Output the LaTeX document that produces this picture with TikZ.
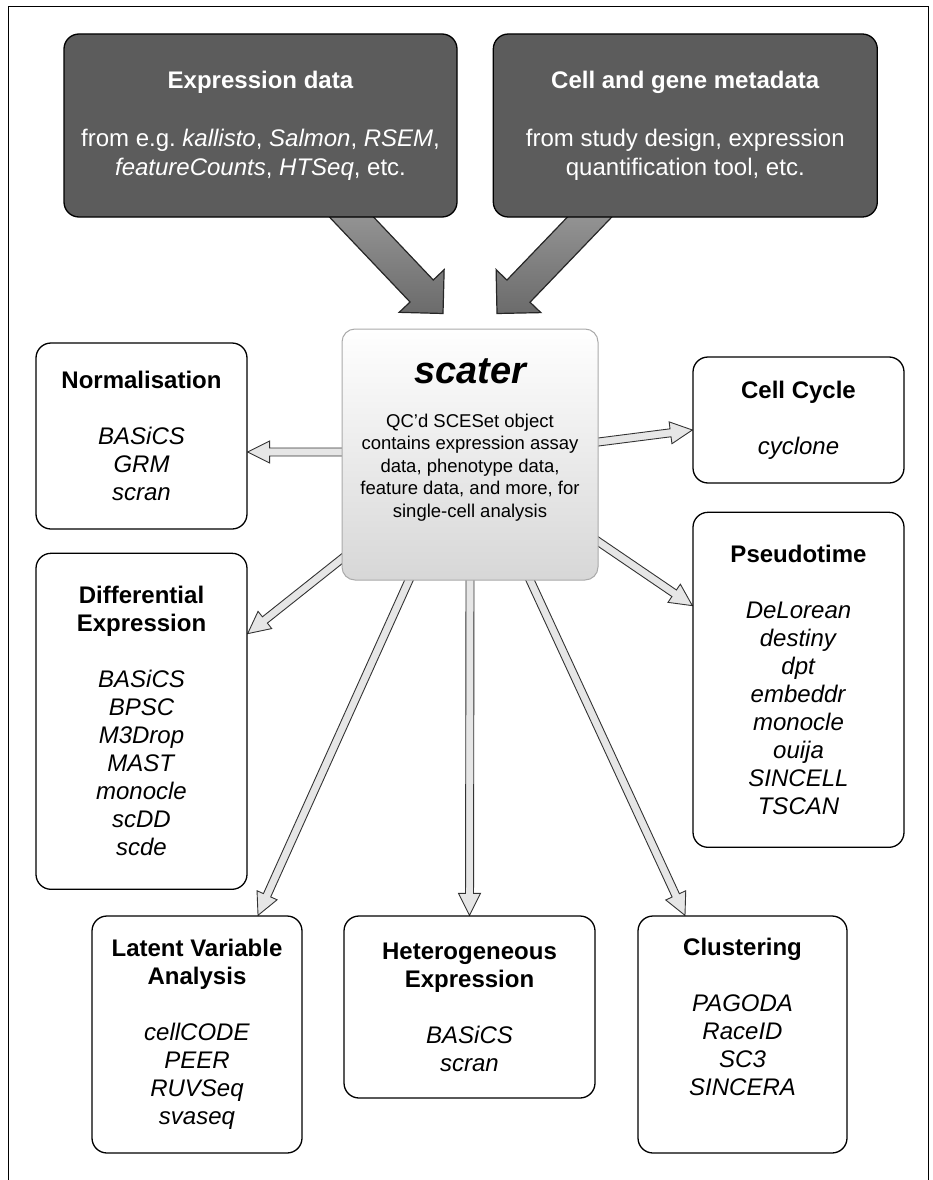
\documentclass[tikz,border=0pt]{standalone}
\usepackage{fontspec}
\setmainfont{Liberation Sans}
\usetikzlibrary{calc,positioning,backgrounds}
\definecolor{inbox}{RGB}{92,92,92}
\definecolor{arrowfill}{RGB}{230,230,230}
\definecolor{scaterline}{RGB}{170,170,170}
\definecolor{scaterlow}{RGB}{215,215,215}

% block arrow from #2 to #3: shaft half width #4, head half width #5, head length #6
\newcommand{\fatarrow}[6][]{%
  \draw[#1] let \p1=($(#3)-(#2)$) in
    {[shift={(#2)}, rotate={atan2(\y1,\x1)}]
      (0pt,-#4) -- ({veclen(\x1,\y1)-#6},-#4) -- ({veclen(\x1,\y1)-#6},-#5)
      -- ({veclen(\x1,\y1)},0pt) -- ({veclen(\x1,\y1)-#6},#5)
      -- ({veclen(\x1,\y1)-#6},#4) -- (0pt,#4) -- cycle};%
}

\begin{document}
\begin{tikzpicture}[x=1pt, y=-1pt,
  inputbox/.style={draw, line width=1.3pt, rounded corners=15pt, fill=inbox, text=white, align=center, inner sep=0pt, font=\fontsize{24}{29}\selectfont},
  toolbox/.style={draw, line width=1.3pt, rounded corners=15pt, fill=white, align=center, inner sep=0pt, font=\fontsize{24}{28}\selectfont},
  scaterbox/.style={draw=scaterline, line width=1pt, rounded corners=13pt, top color=white, bottom color=scaterlow},
  bigarr/.style={draw=black!85, line width=1.2pt, top color=black!38, bottom color=black!58},
  smallarr/.style={draw=black!80, line width=0.9pt, fill=arrowfill}]
  \useasboundingbox (0,0) rectangle (933,1180);
  \draw[line width=1pt] (8,1180) -- (8,7) -- (928,7) -- (928,1180);

  % inputs
  \node[inputbox, minimum width=393pt, minimum height=183pt] (exprdata) at (260.5,125.5) {\textbf{Expression data}\\[29pt]from e.g.\ \textit{kallisto}, \textit{Salmon}, \textit{RSEM},\\\textit{featureCounts}, \textit{HTSeq}, etc.};
  \node[inputbox, minimum width=384pt, minimum height=183pt, right=35pt of exprdata] (metadata) {\textbf{Cell and gene metadata}\\[29pt]from study design, expression\\quantification tool, etc.};

  % scater
  \node[scaterbox, minimum width=256pt, minimum height=251pt] (scater) at (470,454.5) {};
  \node[font=\fontsize{38}{44}\selectfont\bfseries\itshape] (scatername) at ($(scater.north)+(0,43)$) {scater};
  \node[font=\fontsize{18.5}{22.5}\selectfont, align=center] (scaterdesc) at ($(scater.north)+(0,139)$) {QC'd SCESet object\\contains expression assay\\data, phenotype data,\\feature data, and more, for\\single-cell analysis};

  % tools
  \node[toolbox, minimum width=211pt, minimum height=186pt] (norm) at (141.5,436) {\textbf{Normalisation}\\[28pt]\textit{BASiCS}\\\textit{GRM}\\\textit{scran}};
  \node[toolbox, minimum width=211pt, minimum height=336pt, below=23pt of norm] (diffexpr) {\textbf{Differential}\\\textbf{Expression}\\[28pt]\textit{BASiCS}\\\textit{BPSC}\\\textit{M3Drop}\\\textit{MAST}\\\textit{monocle}\\\textit{scDD}\\\textit{scde}};
  \node[toolbox, minimum width=211pt, minimum height=126pt] (cellcycle) at (798.5,420) {\textbf{Cell Cycle}\\[28pt]\textit{cyclone}};
  \node[toolbox, minimum width=211pt, minimum height=335pt, below=28pt of cellcycle] (pseudo) {\textbf{Pseudotime}\\[28pt]\textit{DeLorean}\\\textit{destiny}\\\textit{dpt}\\\textit{embeddr}\\\textit{monocle}\\\textit{ouija}\\\textit{SINCELL}\\\textit{TSCAN}};
  \node[toolbox, minimum width=210pt, minimum height=237pt] (latent) at (197,1034.5) {\textbf{Latent Variable}\\\textbf{Analysis}\\[28pt]\textit{cellCODE}\\\textit{PEER}\\\textit{RUVSeq}\\\textit{svaseq}};
  \node[toolbox, minimum width=251pt, minimum height=182pt] (hetero) at (469.5,1007) {\textbf{Heterogeneous}\\\textbf{Expression}\\[28pt]\textit{BASiCS}\\\textit{scran}};
  \node[toolbox, minimum width=209pt, minimum height=237pt] (cluster) at (742.5,1034.5) {\textbf{Clustering}\\[28pt]\textit{PAGODA}\\\textit{RaceID}\\\textit{SC3}\\\textit{SINCERA}\\\strut};

  % arrow ends
  \coordinate (exprtail) at ($(exprdata.south)+(74.5,-18)$);
  \coordinate (exprhead) at ($(scater.north)+(-27,-15)$);
  \coordinate (metatail) at ($(metadata.south)+(-79,-18)$);
  \coordinate (metahead) at ($(scater.north)+(27,-15)$);
  \coordinate (normtail) at ($(scater.west)+(8,-2.5)$);
  \coordinate (normhead) at ($(norm.east)+(0,16)$);
  \coordinate (cycletail) at ($(scater.east)+(-8,-11.5)$);
  \coordinate (cyclehead) at ($(cellcycle.west)+(0,10)$);
  \coordinate (pseudotail) at ($(scater.east)+(-7,82.5)$);
  \coordinate (pseudohead) at ($(pseudo.north west)+(0,94)$);
  \coordinate (difftail) at ($(scater.south west)+(7,-27)$);
  \coordinate (diffhead) at ($(diffexpr.north east)+(0,81)$);
  \coordinate (latenttail) at ($(scater.south)+(-58,-7)$);
  \coordinate (latenthead) at ($(latent.north)+(61,0)$);
  \coordinate (heterotail) at ($(scater.south)+(0,-8)$);
  \coordinate (clustertail) at ($(scater.south)+(57,-7)$);
  \coordinate (clusterhead) at ($(cluster.north)+(-57.5,0)$);

  \begin{pgfonlayer}{background}
    \fatarrow[bigarr]{exprtail}{exprhead}{16pt}{31pt}{31pt}
    \fatarrow[bigarr]{metatail}{metahead}{16pt}{31pt}{31pt}
    \fatarrow[smallarr]{normtail}{normhead}{4pt}{11pt}{22pt}
    \fatarrow[smallarr]{cycletail}{cyclehead}{4pt}{11pt}{22pt}
    \fatarrow[smallarr]{pseudotail}{pseudohead}{4pt}{11pt}{22pt}
    \fatarrow[smallarr]{difftail}{diffhead}{4pt}{11pt}{22pt}
    \fatarrow[smallarr]{latenttail}{latenthead}{4pt}{11pt}{22pt}
    \fatarrow[smallarr]{heterotail}{hetero.north}{4pt}{11pt}{22pt}
    \fatarrow[smallarr]{clustertail}{clusterhead}{4pt}{11pt}{22pt}
  \end{pgfonlayer}
\end{tikzpicture}
\end{document}
